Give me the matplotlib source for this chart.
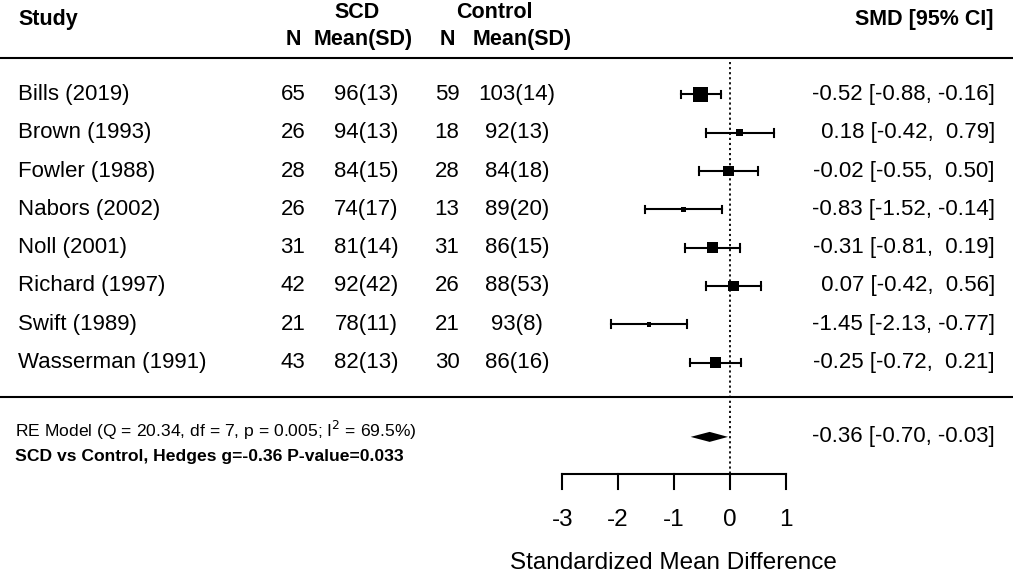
import matplotlib
matplotlib.use("Agg")
import matplotlib.pyplot as plt
from matplotlib.patches import Rectangle

plt.rcParams['font.family'] = ['Liberation Sans', 'DejaVu Sans']

# data
studies = ["Bills (2019)", "Brown (1993)", "Fowler (1988)", "Nabors (2002)",
           "Noll (2001)", "Richard (1997)", "Swift (1989)", "Wasserman (1991)"]
scd_n = [65, 26, 28, 26, 31, 42, 21, 43]
scd_msd = ["96(13)", "94(13)", "84(15)", "74(17)", "81(14)", "92(42)", "78(11)", "82(13)"]
ctl_n = [59, 18, 28, 13, 31, 26, 21, 30]
ctl_msd = ["103(14)", "92(13)", "84(18)", "89(20)", "86(15)", "88(53)", "93(8)", "86(16)"]
smd = [-0.52, 0.18, -0.02, -0.83, -0.31, 0.07, -1.45, -0.25]
ci_lo = [-0.88, -0.42, -0.55, -1.52, -0.81, -0.42, -2.13, -0.72]
ci_hi = [-0.16, 0.79, 0.50, -0.14, 0.19, 0.56, -0.77, 0.21]
# relative box weight (largest = 1)
box_w = [1.0, 0.51, 0.72, 0.35, 0.74, 0.74, 0.31, 0.74]
re_est, re_lo, re_hi = -0.36, -0.70, -0.03
re_label = "RE Model (Q = 20.34, df = 7, p = 0.005; I$^2$ = 69.5%)"
summary_label = "SCD vs Control, Hedges g=-0.36 P-value=0.033"
xticks = [-3, -2, -1, 0, 1]

fig = plt.figure(figsize=(10.13, 5.77), dpi=100)
ax = fig.add_axes([0, 0, 1, 1])
ax.axis("off")
ax.set_xlim(-13.077, 5.077)
ax.set_ylim(12.598, -2.467)
px_x = 1 / 55.8   # one pixel in x units
px_y = 1 / 38.3   # one pixel in y units

fs = 16
hfs = 15.5
x_study, x_n1, x_m1, x_n2, x_m2, x_right = -12.754, -7.826, -6.518, -5.066, -3.81, 4.754

# header
ax.text(x_study, -1.945, "Study", fontsize=hfs, fontweight="bold", ha="left", va="center")
ax.text(-6.68, -2.128, "SCD", fontsize=hfs, fontweight="bold", ha="center", va="center")
ax.text(-4.21, -2.128, "Control", fontsize=hfs, fontweight="bold", ha="center", va="center")
for x, s in [(x_n1, "N"), (-6.57, "Mean(SD)"), (x_n2, "N"), (-3.72, "Mean(SD)")]:
    ax.text(x, -1.423, s, fontsize=hfs, fontweight="bold", ha="center", va="center")
ax.text(4.72, -1.945, "SMD [95% CI]", fontsize=hfs, fontweight="bold", ha="right", va="center")

ax.axhline(-0.953, color="black", lw=1.5)
ax.axhline(7.9, color="black", lw=1.5)

# reference line
ax.plot([0, 0], [-0.85, 9.906], color="black", lw=1.3, ls=(0, (1.2, 1.6)))

for i in range(len(studies)):
    ax.text(x_study, i, studies[i], fontsize=fs, ha="left", va="center")
    ax.text(x_n1, i, str(scd_n[i]), fontsize=fs, ha="center", va="center")
    ax.text(x_m1, i, scd_msd[i], fontsize=fs, ha="center", va="center")
    ax.text(x_n2, i, str(ctl_n[i]), fontsize=fs, ha="center", va="center")
    ax.text(x_m2, i, ctl_msd[i], fontsize=fs, ha="center", va="center")
    ax.text(x_right, i, f"{smd[i]:5.2f} [{ci_lo[i]:5.2f}, {ci_hi[i]:5.2f}]",
            fontsize=fs, ha="right", va="center")
    ax.plot([ci_lo[i], ci_hi[i]], [i, i], color="black", lw=1.5)
    ax.plot([ci_lo[i]] * 2, [i - 0.1, i + 0.1], color="black", lw=1.5)
    ax.plot([ci_hi[i]] * 2, [i - 0.1, i + 0.1], color="black", lw=1.5)
    side = 14.4 * box_w[i]
    ax.add_patch(Rectangle((smd[i] - side / 2 * px_x, i - side / 2 * px_y),
                           side * px_x, side * px_y, color="black", lw=0))

# summary
y_re = 8.94
ax.fill([re_lo, re_est, re_hi, re_est], [y_re, y_re - 5 * px_y, y_re, y_re + 5 * px_y],
        color="black", lw=0)
ax.text(x_right, y_re, f"{re_est:5.2f} [{re_lo:5.2f}, {re_hi:5.2f}]",
        fontsize=fs, ha="right", va="center")
ax.text(-12.8, 8.76, re_label, fontsize=12.6, ha="left", va="center")
ax.text(-12.8, 9.46, summary_label, fontsize=12.6, fontweight="bold", ha="left", va="center")

# x axis
ax.plot([xticks[0], xticks[-1]], [9.906, 9.906], color="black", lw=1.5)
for t in xticks:
    ax.plot([t, t], [9.906, 10.30], color="black", lw=1.5)
    ax.text(t, 11.11, str(t), fontsize=17.5, ha="center", va="center")
ax.text((xticks[0] + xticks[-1]) / 2, 12.23, "Standardized Mean Difference",
        fontsize=17.5, ha="center", va="center")

fig.savefig("out.png", dpi=100)
